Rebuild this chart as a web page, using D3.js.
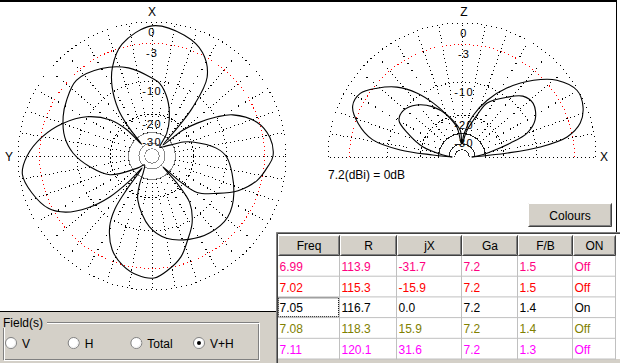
<!DOCTYPE html>
<html>
<head>
<meta charset="utf-8">
<script src="https://cdn.jsdelivr.net/npm/d3@7"></script>
<style>
  body { margin: 0; background: #fff; }
  svg { display: block; font-family: Arial, "Liberation Sans", sans-serif; }
</style>
</head>
<body>
<svg id="chart" width="620" height="363"></svg>
<script>
'use strict';

// grid rings (dB below the 7.2 dBi maximum)
var ringDb = [0, -3, -10, -20, -30, -40, -50];
var ringText = ["0", "-3", "-10", "-20", "-30"];

// azimuth traces: degrees counter-clockwise from X, gain in dB
var azVDeg = [0, 15, 24, 30, 36, 39, 41.5, 44, 49, 59, 70, 80, 90, 98, 107, 117, 123, 129, 134, 138, 140.5, 143, 145, 149, 157, 165, 173, 181, 188, 196, 203, 211, 219, 222.5, 225, 227.5, 231, 240, 248, 257, 265, 270, 279, 288, 297, 301, 306, 310, 315, 318, 320, 325, 334, 345];
var azVDb = [-0.5, -2.5, -5.5, -8.9, -14.7, -22, -37, -22, -15.3, -9.7, -5.9, -3.2, -1.2, -0.4, -1.1, -2.5, -4.5, -8.4, -14, -24, -37, -20, -12.5, -8.4, -4.7, -2.9, -1.9, -1.6, -2.6, -4.2, -6.6, -9.3, -13.8, -22, -37, -22, -14.4, -10, -6.3, -3.7, -2.4, -1.75, -2.0, -3.4, -6.7, -9.7, -15, -20.7, -37, -22, -13, -5.7, -2.6, -1.2];

var azHDeg = [0, 15, 30, 45, 57, 66, 78, 88, 100, 114, 130, 140, 152, 156, 162, 178, 190, 204, 217, 231, 246, 269, 277, 289, 294, 309, 318, 327, 335, 345, 354];
var azHDb = [-9.3, -6.6, -4.85, -3.86, -4.7, -5.5, -7.0, -9.1, -13, -18.3, -34, -42, -34, -25.7, -18.3, -10.9, -8.1, -6.6, -5.7, -5.5, -6.9, -10, -12.5, -19.5, -23.3, -38, -42, -27.5, -20.3, -14, -10.4];

// elevation traces: degrees above +X, gain in dB
var elADeg = [0, 5, 7.3, 10.8, 16, 22.5, 30, 39, 47, 57, 66, 75, 85, 92, 99.5, 110, 118, 125, 133, 141, 148, 155, 162, 169, 173.5, 176, 180];
var elADb = [-45, -18.4, -9.1, -3.86, -1.47, -0.39, -0.13, -1.6, -4.2, -8.4, -13.2, -19.5, -30, -40, -25.7, -18.7, -13.5, -9.3, -5.8, -3.5, -1.9, -1.8, -3.5, -6.6, -13.2, -26, -45];

var elBDeg = [0, 5, 10, 16, 20, 27, 37, 45, 53, 65, 70, 80, 90, 94, 110, 120, 131, 141.5, 150, 156, 165.6, 174, 180];
var elBDb = [-45, -35, -26.9, -16.9, -11.4, -8.4, -7.0, -7.6, -10, -13.9, -18.7, -28, -40, -27.5, -18.7, -14.4, -11.4, -10, -10.5, -13.8, -20.7, -33.5, -45];

// frequency sweep table
var tableHeads = ["Freq", "R", "jX", "Ga", "F/B", "ON"];
var freqs = ["6.99", "7.02", "7.05", "7.08", "7.11"];
var resR = ["113.9", "115.3", "116.7", "118.3", "120.1"];
var resX = ["-31.7", "-15.9", "0.0", "15.9", "31.6"];
var gainGa = ["7.2", "7.2", "7.2", "7.2", "7.2"];
var frontBack = ["1.5", "1.5", "1.4", "1.4", "1.3"];
var onState = ["Off", "Off", "On", "Off", "Off"];
var rowColours = ["#ff0080", "#ff0000", "#000000", "#808000", "#ff00ff"];

var fieldNames = ["V", "H", "Total", "V+H"];
var fieldChosen = "V+H";

var svg = d3.select("#chart");

// constants
var R = 134;
var grey = "#d4d0c8";

// ARRL log scale: r = R * 0.89^(-dB/2)
var rScale = d3.scaleLog()
  .domain([R * Math.pow(0.89, 25), R])
  .range([-50, 0]);
function radius(db) {
  return rScale.invert(Math.max(db, -50));
}

var azAngle = d3.scaleLinear().domain([0, 360]).range([0, -2 * Math.PI]);
var elAngle = d3.scaleLinear().domain([0, 180]).range([Math.PI / 2, -Math.PI / 2]);

function ringStyle(db, inner) {
  if (db === 0) return { c: "#000", d: "1,4" };
  if (db === -3) return { c: "#ff0000", d: "1,3" };
  if (db === -10) return { c: "#000", d: "1,3" };
  if (db === -20) return { c: "#000", d: "2,2" };
  return { c: inner, d: null };
}

function semicircle(r) {
  var p = d3.path();
  p.moveTo(-r, 0);
  p.arc(0, 0, r, Math.PI, 2 * Math.PI);
  return p.toString();
}

// white plot area and frame
svg.append("rect").attr("width", 620).attr("height", 363).attr("fill", "#fff");
svg.append("rect").attr("x", 0).attr("y", 0).attr("width", 617).attr("height", 2).attr("fill", "#000");
svg.append("line").attr("x1", 616.5).attr("y1", 0).attr("x2", 616.5).attr("y2", 232)
  .attr("stroke", "#000");

function drawGrid(g, half, angle, innerColour) {
  var degs = half ? d3.range(0, 181, 10) : d3.range(0, 360, 10);
  g.selectAll("line.spoke")
    .data(degs)
    .enter()
    .append("line")
    .attr("class", "spoke")
    .attr("x1", function(d) { return d3.pointRadial(angle(d), radius(-30))[0]; })
    .attr("y1", function(d) { return d3.pointRadial(angle(d), radius(-30))[1]; })
    .attr("x2", function(d) { return d3.pointRadial(angle(d), R)[0]; })
    .attr("y2", function(d) { return d3.pointRadial(angle(d), R)[1]; })
    .attr("stroke", "#000")
    .attr("stroke-dasharray", "1,3")
    .attr("shape-rendering", "crispEdges");

  ringDb.forEach(function(db) {
    var st = ringStyle(db, innerColour);
    var el = half
      ? g.append("path").attr("d", semicircle(radius(db)))
      : g.append("circle").attr("r", radius(db));
    el.attr("fill", "none")
      .attr("stroke", st.c)
      .attr("stroke-dasharray", st.d)
      .attr("shape-rendering", "crispEdges");
  });

  g.selectAll("text.ring")
    .data(ringText)
    .enter()
    .append("text")
    .attr("class", "ring")
    .attr("x", half ? 2 : 0)
    .attr("y", function(d) { return -radius(+d) + 13.5; })
    .attr("text-anchor", "middle")
    .attr("font-size", 11)
    .attr("letter-spacing", 1.2)
    .text(function(d) { return d; });
}

function zipPoints(deg, db) {
  return deg.map(function(d, i) { return [d, db[i]]; });
}

// azimuth plot
var az = svg.append("g").attr("transform", "translate(152,156)");
drawGrid(az, false, azAngle, "#888");

var azLine = d3.lineRadial()
  .angle(function(d) { return azAngle(d[0]); })
  .radius(function(d) { return radius(d[1]); })
  .curve(d3.curveCatmullRomClosed.alpha(0.5));

[zipPoints(azVDeg, azVDb), zipPoints(azHDeg, azHDb)].forEach(function(pts) {
  az.append("path")
    .attr("d", azLine(pts))
    .attr("fill", "none")
    .attr("stroke", "#000")
    .attr("stroke-width", 1.1);
});

az.append("text").attr("x", 0).attr("y", -140).attr("text-anchor", "middle")
  .attr("font-size", 12).text("X");
az.append("text").attr("x", -143).attr("y", 5).attr("text-anchor", "middle")
  .attr("font-size", 12).text("Y");

// elevation plot
var elv = svg.append("g").attr("transform", "translate(462,157)");
drawGrid(elv, true, elAngle, "#222");

var elLine = d3.lineRadial()
  .angle(function(d) { return elAngle(d[0]); })
  .radius(function(d) { return radius(d[1]); })
  .curve(d3.curveCatmullRom.alpha(0.5));

[zipPoints(elADeg, elADb), zipPoints(elBDeg, elBDb)].forEach(function(pts) {
  elv.append("path")
    .attr("d", elLine(pts))
    .attr("fill", "none")
    .attr("stroke", "#000")
    .attr("stroke-width", 1.1);
});

elv.append("text").attr("x", 2).attr("y", -141).attr("text-anchor", "middle")
  .attr("font-size", 12).text("Z");
elv.append("text").attr("x", 142).attr("y", 4).attr("text-anchor", "middle")
  .attr("font-size", 12).text("X");
elv.append("text").attr("x", -134).attr("y", 22)
  .attr("font-size", 12).text("7.2(dBi) = 0dB");

// Colours button
function button3d(x, y, w, h) {
  svg.append("rect").attr("x", x).attr("y", y).attr("width", w).attr("height", h).attr("fill", grey);
  svg.append("path").attr("d", "M" + (x + 0.5) + "," + (y + h - 1) + "V" + (y + 0.5) + "H" + (x + w - 1))
    .attr("stroke", "#fff").attr("fill", "none");
  svg.append("path").attr("d", "M" + (x + 0.5) + "," + (y + h - 0.5) + "H" + (x + w - 0.5) + "V" + (y + 0.5))
    .attr("stroke", "#404040").attr("fill", "none");
  svg.append("path").attr("d", "M" + (x + 1.5) + "," + (y + h - 1.5) + "H" + (x + w - 1.5) + "V" + (y + 1.5))
    .attr("stroke", "#808080").attr("fill", "none");
}
button3d(528, 203, 84, 24);
svg.append("text").attr("x", 570).attr("y", 219.5).attr("text-anchor", "middle")
  .attr("font-size", 12).text("Colours");

// Field(s) panel
svg.append("rect").attr("x", 0).attr("y", 312).attr("width", 277).attr("height", 51).attr("fill", grey);
svg.append("line").attr("x1", 0).attr("y1", 311.5).attr("x2", 277).attr("y2", 311.5).attr("stroke", "#000");
svg.append("rect").attr("x", 3.5).attr("y", 322.5).attr("width", 255).attr("height", 37)
  .attr("fill", "none").attr("stroke", "#808080");
svg.append("rect").attr("x", 4.5).attr("y", 323.5).attr("width", 255).attr("height", 37)
  .attr("fill", "none").attr("stroke", "#fff");
svg.append("rect").attr("x", 2).attr("y", 316).attr("width", 45).attr("height", 12).attr("fill", grey);
svg.append("text").attr("x", 3).attr("y", 326.5).attr("font-size", 12).text("Field(s)");

var radioX = d3.scalePoint().domain(fieldNames).range([11, 199]);
var radios = svg.selectAll("g.radio")
  .data(fieldNames)
  .enter()
  .append("g")
  .attr("class", "radio")
  .attr("transform", function(d) { return "translate(" + radioX(d) + ",343)"; });
radios.append("circle").attr("r", 5.5).attr("fill", "#fff").attr("stroke", "#808080");
radios.append("path").attr("d", "M-3.5,3.5A5,5 0 0 0 3.5,-3.5").attr("fill", "none").attr("stroke", "#eee");
radios.filter(function(d) { return d === fieldChosen; })
  .append("circle").attr("r", 2).attr("fill", "#000");
radios.append("text").attr("x", 11).attr("y", 4.5).attr("font-size", 12)
  .text(function(d) { return d; });

// results table
var colX = [277, 339, 396, 461, 517, 572, 615];
var headTop = 235, headH = 21, rowH = 20.7;
var rowY = d3.scaleLinear().domain([0, 1]).range([headTop + headH, headTop + headH + rowH]);

svg.append("rect").attr("x", 276).attr("y", 232).attr("width", 344).attr("height", 131).attr("fill", grey);
svg.append("rect").attr("x", 278).attr("y", 234).attr("width", 342).attr("height", 125).attr("fill", "#fff");
svg.append("path").attr("d", "M276.5,363V232.5H620").attr("stroke", "#808080").attr("fill", "none");
svg.append("path").attr("d", "M277.5,363V233.5H620").attr("stroke", "#404040").attr("fill", "none");

tableHeads.forEach(function(h, i) {
  var x = colX[i] + 1, w = colX[i + 1] - colX[i];
  button3d(x, headTop, w, headH);
  svg.append("text").attr("x", x + w / 2).attr("y", headTop + 15)
    .attr("text-anchor", "middle").attr("font-size", 12).text(h);
});

var columns = [freqs, resR, resX, gainGa, frontBack, onState];
freqs.forEach(function(f, r) {
  var y = rowY(r);
  svg.append("line").attr("x1", 278).attr("x2", 616).attr("y1", y + rowH - 0.5).attr("y2", y + rowH - 0.5)
    .attr("stroke", "#c0c0c0");
  columns.forEach(function(col, c) {
    svg.append("text")
      .attr("x", colX[c] + 2.5)
      .attr("y", y + 15)
      .attr("font-size", 12)
      .attr("fill", rowColours[r])
      .text(col[r]);
  });
});
colX.slice(1).forEach(function(x) {
  svg.append("line").attr("x1", x + 0.5).attr("x2", x + 0.5).attr("y1", headTop + headH).attr("y2", rowY(5))
    .attr("stroke", "#c0c0c0");
});

// focus rectangle on the current frequency
svg.append("rect").attr("x", 278.5).attr("y", rowY(2) + 0.5).attr("width", 60).attr("height", rowH - 2)
  .attr("fill", "none").attr("stroke", "#000").attr("stroke-dasharray", "1,1");
</script>
</body>
</html>
